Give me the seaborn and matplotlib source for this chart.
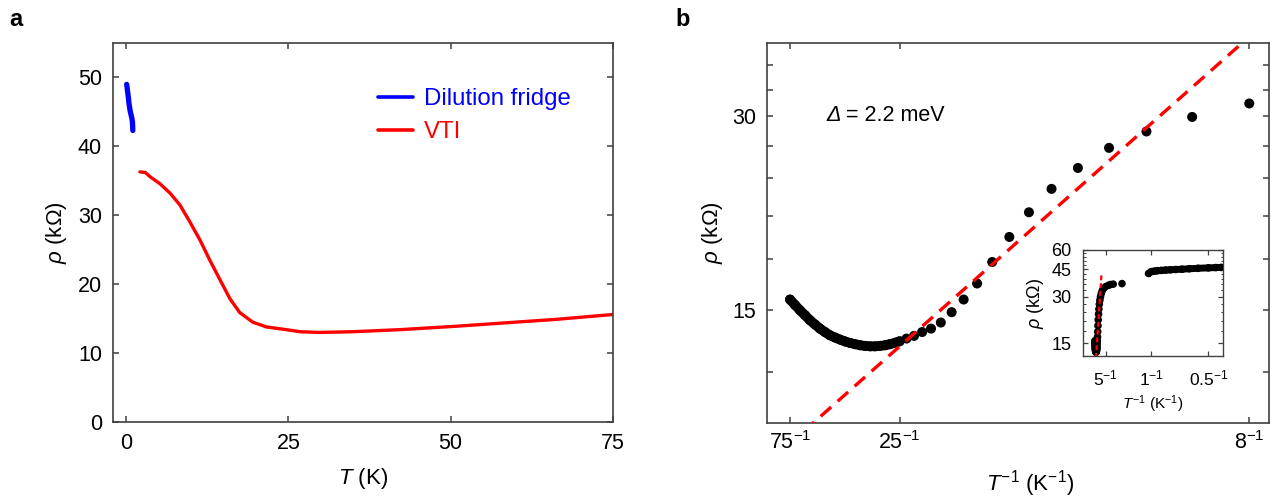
import numpy as np
import pandas as pd
import seaborn as sns
import matplotlib.pyplot as plt
from matplotlib.ticker import FixedLocator, FixedFormatter, NullLocator, NullFormatter

# ---- panel a: rho(T), VTI and dilution fridge ----
vti_T = [2.15, 3.0, 3.7, 5.2, 6.8, 8.3, 9.8, 11.4, 12.9, 14.5, 16.0, 17.5, 19.5,
         21.6, 24.7, 26.8, 29.8, 34.9, 42.2, 50.9, 58.6, 66.3, 75.0]
vti_rho = [36.3, 36.2, 35.6, 34.6, 33.2, 31.5, 29.1, 26.4, 23.5, 20.6, 17.9, 15.9, 14.5,
           13.8, 13.4, 13.1, 13.0, 13.1, 13.4, 13.9, 14.4, 14.9, 15.6]

dil_T = [1.05, 1.0, 0.95, 0.9, 0.85, 0.8, 0.75, 0.7, 0.65, 0.6, 0.55, 0.5, 0.47, 0.45,
         0.4, 0.3, 0.2, 0.15, 0.1]
dil_rho = [42.3, 43.5, 43.8, 44.1, 44.3, 44.5, 44.7, 44.9, 45.1, 45.4, 45.7, 46.0, 46.2, 46.3,
           46.8, 47.6, 48.3, 48.7, 49.0]

# ---- panel b: Arrhenius plot points ----
b_T = [75.0, 68.7, 63.4, 58.9, 55.0, 51.5, 48.5, 45.8, 43.4, 41.2, 39.2, 37.4, 35.8, 34.3,
       32.9, 31.7, 30.5, 29.4, 28.4, 27.4, 26.6, 25.7, 25, 24, 23, 22, 21, 20, 19, 18, 17,
       16, 15, 14, 13, 12, 11, 10, 9, 8]
b_rho = [15.55, 15.25, 14.96, 14.70, 14.44, 14.22, 14.01, 13.84, 13.68, 13.57, 13.47, 13.38,
         13.31, 13.25, 13.20, 13.17, 13.15, 13.15, 13.17, 13.20, 13.25, 13.32, 13.39, 13.52,
         13.65, 13.84, 14.01, 14.32, 14.86, 15.55, 16.47, 17.79, 19.46, 21.26, 23.12, 24.92,
         26.78, 28.40, 29.92, 31.40]

# lower temperature VTI points only visible in the inset
low_T = [7.0, 6.0, 5.0, 4.0, 3.5, 3.0, 2.05]
low_rho = [32.8, 33.9, 34.8, 35.5, 35.9, 36.1, 36.4]

# activated fit rho = rho0 * exp(gap / 2kT)  (label rounds gap to 2.2 meV)
gap_meV = 2.25
rho0 = 7.80
kB = 0.08617  # meV/K

sns.set_style("ticks")
plt.rcParams["font.family"] = ["Liberation Sans", "DejaVu Sans"]
plt.rcParams["mathtext.fontset"] = "custom"
plt.rcParams["mathtext.rm"] = "Liberation Sans"
plt.rcParams["mathtext.it"] = "Liberation Sans:italic"
plt.rcParams["mathtext.bf"] = "Liberation Sans:bold"
plt.rcParams["text.color"] = "black"
plt.rcParams["axes.labelcolor"] = "black"

spine_col = "#404040"
W, H = 1281, 497
fig = plt.figure(figsize=(W / 100, H / 100), dpi=100)


def frame(ax, lw=1.2):
    for s in ax.spines.values():
        s.set_visible(True)
        s.set_color(spine_col)
        s.set_linewidth(lw)


# ---------------- panel a ----------------
axa = fig.add_axes([113 / W, 1 - 422 / H, 500 / W, 379 / H])
df_dil = pd.DataFrame({"T": dil_T, "rho": dil_rho})
df_vti = pd.DataFrame({"T": vti_T, "rho": vti_rho})
sns.lineplot(data=df_dil, x="T", y="rho", ax=axa, color="#0000ff", lw=3.8,
             label="Dilution fridge", solid_capstyle="round")
sns.lineplot(data=df_vti, x="T", y="rho", ax=axa, color="#ff0000", lw=2.4, label="VTI")
axa.set_xlim(-2, 75)
axa.set_ylim(0, 55)
axa.set_xticks([0, 25, 50, 75])
axa.set_yticks([0, 10, 20, 30, 40, 50])
frame(axa)
axa.tick_params(direction="in", top=True, right=True, length=4.5, width=1.1,
                color=spine_col, labelcolor="black", labelsize=15.5, pad=8)
axa.set_xlabel(r"$\mathit{T}$ (K)", fontsize=16)
axa.set_ylabel(r"$\mathit{\rho}$ (k$\Omega$)", fontsize=16)
axa.xaxis.set_label_coords(0.5, -0.115)
axa.yaxis.set_label_coords(-0.088, 0.5)
leg = axa.legend(loc="upper left", bbox_to_anchor=(0.53, 0.88), frameon=False, fontsize=17.3,
                 handlelength=1.45, handletextpad=0.45, borderpad=0, borderaxespad=0,
                 labelspacing=0.45)
for t, c in zip(leg.get_texts(), ["#0000ff", "#ff0000"]):
    t.set_color(c)
for h in leg.legend_handles:
    h.set_linewidth(2.6)

# ---------------- panel b ----------------
axb = fig.add_axes([767 / W, 1 - 422.7 / H, 502 / W, 379.7 / H])
axb.set_yscale("log")
df_b = pd.DataFrame({"invT": 1 / np.array(b_T), "rho": b_rho, "T": b_T})
# dense part of the sweep (T >= 25 K) looks like a continuous band of points
sns.lineplot(data=df_b[df_b["T"] >= 25], x="invT", y="rho", ax=axb, color="black", lw=7.0,
             solid_capstyle="round", zorder=2)
sns.scatterplot(data=df_b, x="invT", y="rho", ax=axb, color="black", s=52,
                edgecolor="none", linewidth=0, zorder=3)
fit_T = np.array([60.0, 7.0])
df_fit = pd.DataFrame({"invT": 1 / fit_T, "rho": rho0 * np.exp(gap_meV / (2 * kB * fit_T))})
sns.lineplot(data=df_fit, x="invT", y="rho", ax=axb, color="#ff0000", lw=2.4,
             linestyle=(0, (4.2, 2.6)), zorder=4)
axb.set_xlim(0.00774, 0.1298)
axb.set_ylim(10.0, 39.0)
axb.xaxis.set_major_locator(FixedLocator([1 / 75, 1 / 25, 1 / 8]))
axb.xaxis.set_major_formatter(FixedFormatter([r"75$^{-1}$", r"25$^{-1}$", r"8$^{-1}$"]))
yt = list(range(12, 37, 3))
axb.yaxis.set_major_locator(FixedLocator(yt))
axb.yaxis.set_major_formatter(FixedFormatter([str(v) if v in (15, 30) else "" for v in yt]))
axb.yaxis.set_minor_locator(NullLocator())
axb.yaxis.set_minor_formatter(NullFormatter())
frame(axb)
axb.tick_params(direction="in", top=True, right=True, length=4.5, width=1.1,
                color=spine_col, labelcolor="black", labelsize=15.5, pad=8)
axb.tick_params(axis="x", pad=6)
axb.set_xlabel(r"$\mathit{T}^{-1}$ (K$^{-1}$)", fontsize=16)
axb.set_ylabel(r"$\mathit{\rho}$ (k$\Omega$)", fontsize=16)
axb.xaxis.set_label_coords(0.524, -0.12)
axb.yaxis.set_label_coords(-0.084, 0.5)
d_txt = axb.text(0.1175, 0.808, "Δ", style="italic", fontsize=15.5, va="center",
                 transform=axb.transAxes)
axb.annotate(" = 2.2 meV", xy=(1, 0.5), xycoords=d_txt, va="center", fontsize=15.5)

# ---------------- inset ----------------
axi = fig.add_axes([1082.7 / W, 1 - 356 / H, 140.6 / W, 106 / H])
axi.set_yscale("log")
df_in = pd.concat([
    pd.DataFrame({"invT": 1 / np.array(b_T), "rho": b_rho}),
    pd.DataFrame({"invT": 1 / np.array(low_T), "rho": low_rho}),
    pd.DataFrame({"invT": 1 / np.array(dil_T), "rho": dil_rho}),
])
df_in = df_in[df_in["invT"] < 2.3]
df_dil_in = pd.DataFrame({"invT": 1 / np.array(dil_T), "rho": dil_rho})
df_dil_in = df_dil_in[df_dil_in["invT"] < 2.3]
sns.lineplot(data=df_dil_in, x="invT", y="rho", ax=axi, color="black", lw=5.0,
             solid_capstyle="round")
sns.scatterplot(data=df_in, x="invT", y="rho", ax=axi, color="black", s=30,
                edgecolor="none", linewidth=0, zorder=3)
fit_T_in = np.array([30.0, 7.7])
df_fit_in = pd.DataFrame({"invT": 1 / fit_T_in,
                          "rho": rho0 * np.exp(gap_meV / (2 * kB * fit_T_in))})
sns.lineplot(data=df_fit_in, x="invT", y="rho", ax=axi, color="#ff0000", lw=1.6,
             linestyle=(0, (2.2, 1.3)), zorder=4)
axi.set_xlim(-0.2, 2.26)
axi.set_ylim(12.4, 60)
axi.xaxis.set_major_locator(FixedLocator([0.2, 1, 2]))
axi.xaxis.set_major_formatter(FixedFormatter([r"5$^{-1}$", r"1$^{-1}$", r"0.5$^{-1}$"]))
axi.yaxis.set_major_locator(FixedLocator([15, 30, 45, 60]))
axi.yaxis.set_major_formatter(FixedFormatter(["15", "30", "45", "60"]))
axi.yaxis.set_minor_locator(FixedLocator([v for v in range(12, 61, 3) if v % 15]))
axi.yaxis.set_minor_formatter(NullFormatter())
frame(axi, lw=1.0)
axi.tick_params(which="major", direction="in", top=True, right=True, length=3.5, width=0.9,
                color=spine_col, labelcolor="black", labelsize=13, pad=8)
axi.tick_params(which="minor", direction="in", right=True, length=1.8, width=0.7,
                color=spine_col)
axi.tick_params(axis="x", pad=9, labelsize=12.5)
axi.set_xlabel(r"$\mathit{T}^{-1}$ (K$^{-1}$)", fontsize=11)
axi.set_ylabel(r"$\mathit{\rho}$ (k$\Omega$)", fontsize=13)
axi.xaxis.set_label_coords(0.5, -0.35)
axi.yaxis.set_label_coords(-0.26, 0.5)

# panel letters
fig.text(9 / W, 1 - 8 / H, "a", fontsize=17, fontweight="bold", va="top", ha="left")
fig.text(675 / W, 1 - 8 / H, "b", fontsize=17, fontweight="bold", va="top", ha="left")

fig.savefig("out.png", dpi=100)
